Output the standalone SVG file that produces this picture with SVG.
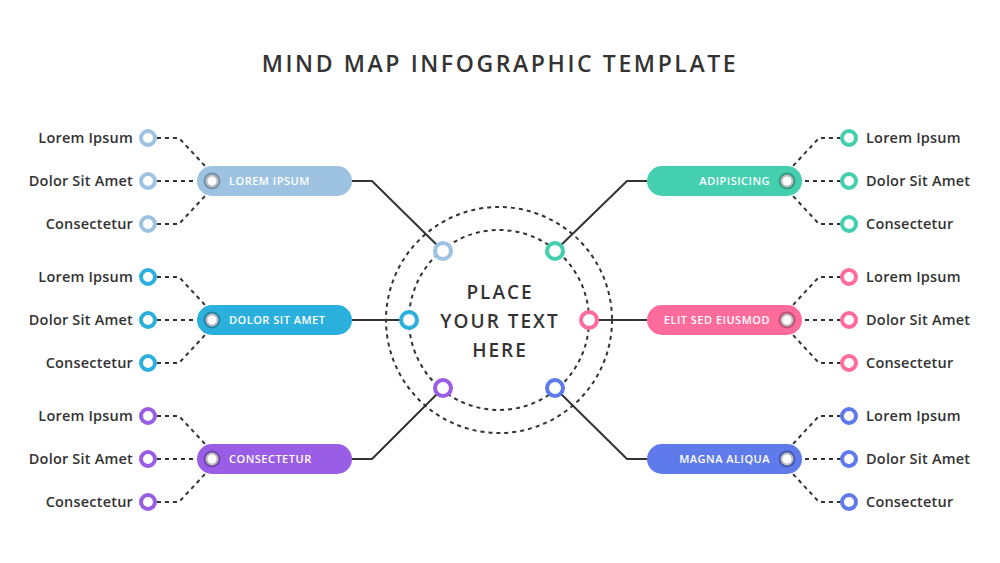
<svg xmlns="http://www.w3.org/2000/svg" width="1000" height="563" viewBox="0 0 1000 563">
<style>
.title{font-family:"Open Sans","Liberation Sans",sans-serif;font-size:23px;font-weight:600;fill:#333;letter-spacing:2.6px}
.center{font-family:"Open Sans","Liberation Sans",sans-serif;font-size:19px;font-weight:600;fill:#333;letter-spacing:2px}
.leaf{font-family:"Open Sans","Liberation Sans",sans-serif;font-size:14.5px;font-weight:600;fill:#333;letter-spacing:0.2px}
.pill{font-family:"Open Sans","Liberation Sans",sans-serif;font-size:11px;font-weight:600;fill:#fff;letter-spacing:0.5px}
.main{fill:none;stroke:#333;stroke-width:2;stroke-linejoin:round}
.dash{fill:none;stroke:#333;stroke-width:2;stroke-dasharray:4 4}
.ring{fill:#fff;stroke-width:4}
.dot{fill:#fff;stroke:#000;stroke-opacity:0.25;stroke-width:4}
</style>
<rect width="1000" height="563" fill="#fff"/>
<text class="title" x="500" y="72" text-anchor="middle">MIND MAP INFOGRAPHIC TEMPLATE</text>

<g id="connectors">
  <circle class="dash" cx="499" cy="320" r="113"/>
  <circle class="dash" cx="499" cy="320" r="90"/>
  <path class="main" d="M352 181 H372 L443 251"/>
  <path class="main" d="M352 320 H401"/>
  <path class="main" d="M352 459 H372 L443 388"/>
  <path class="main" d="M647 181 H627 L555 251"/>
  <path class="main" d="M647 320 H597"/>
  <path class="main" d="M647 459 H627 L555 388"/>
  <path class="dash" d="M157 138 H179 L205 166"/>
  <path class="dash" d="M157 181 H198"/>
  <path class="dash" d="M157 224 H179 L205 196"/>
  <path class="dash" d="M157 277 H179 L205 305"/>
  <path class="dash" d="M157 320 H198"/>
  <path class="dash" d="M157 363 H179 L205 335"/>
  <path class="dash" d="M157 416 H179 L205 444"/>
  <path class="dash" d="M157 459 H198"/>
  <path class="dash" d="M157 502 H179 L205 474"/>
  <path class="dash" d="M841 138 H819 L793 166"/>
  <path class="dash" d="M841 181 H801"/>
  <path class="dash" d="M841 224 H819 L793 196"/>
  <path class="dash" d="M841 277 H819 L793 305"/>
  <path class="dash" d="M841 320 H801"/>
  <path class="dash" d="M841 363 H819 L793 335"/>
  <path class="dash" d="M841 416 H819 L793 444"/>
  <path class="dash" d="M841 459 H801"/>
  <path class="dash" d="M841 502 H819 L793 474"/>
</g>

<g id="center">
  <text class="center" x="500" y="299" text-anchor="middle">PLACE</text>
  <text class="center" x="500" y="328" text-anchor="middle">YOUR TEXT</text>
  <text class="center" x="500" y="357" text-anchor="middle">HERE</text>
  <circle class="ring" cx="443" cy="251" r="8" stroke="#9EC3E2"/>
  <circle class="ring" cx="409" cy="320" r="8" stroke="#2BB0DD"/>
  <circle class="ring" cx="443" cy="388" r="8" stroke="#9A5DE6"/>
  <circle class="ring" cx="555" cy="251" r="8" stroke="#44CFAE"/>
  <circle class="ring" cx="589" cy="320" r="8" stroke="#FF6B9B"/>
  <circle class="ring" cx="555" cy="388" r="8" stroke="#5E7AEB"/>
</g>

<g id="branch-lorem-ipsum">
  <rect x="197" y="166" width="155" height="30" rx="15" fill="#9EC3E2"/>
  <circle class="dot" cx="212" cy="181" r="6.5"/>
  <text class="pill" x="229" y="185">LOREM IPSUM</text>
  <circle class="ring" cx="148" cy="138" r="7" stroke="#9EC3E2"/>
  <circle class="ring" cx="148" cy="181" r="7" stroke="#9EC3E2"/>
  <circle class="ring" cx="148" cy="224" r="7" stroke="#9EC3E2"/>
  <text class="leaf" x="133" y="143" text-anchor="end">Lorem Ipsum</text>
  <text class="leaf" x="133" y="186" text-anchor="end">Dolor Sit Amet</text>
  <text class="leaf" x="133" y="229" text-anchor="end">Consectetur</text>
</g>

<g id="branch-dolor-sit-amet">
  <rect x="197" y="305" width="155" height="30" rx="15" fill="#2BB0DD"/>
  <circle class="dot" cx="212" cy="320" r="6.5"/>
  <text class="pill" x="229" y="324">DOLOR SIT AMET</text>
  <circle class="ring" cx="148" cy="277" r="7" stroke="#2BB0DD"/>
  <circle class="ring" cx="148" cy="320" r="7" stroke="#2BB0DD"/>
  <circle class="ring" cx="148" cy="363" r="7" stroke="#2BB0DD"/>
  <text class="leaf" x="133" y="282" text-anchor="end">Lorem Ipsum</text>
  <text class="leaf" x="133" y="325" text-anchor="end">Dolor Sit Amet</text>
  <text class="leaf" x="133" y="368" text-anchor="end">Consectetur</text>
</g>

<g id="branch-consectetur">
  <rect x="197" y="444" width="155" height="30" rx="15" fill="#9A5DE6"/>
  <circle class="dot" cx="212" cy="459" r="6.5"/>
  <text class="pill" x="229" y="463">CONSECTETUR</text>
  <circle class="ring" cx="148" cy="416" r="7" stroke="#9A5DE6"/>
  <circle class="ring" cx="148" cy="459" r="7" stroke="#9A5DE6"/>
  <circle class="ring" cx="148" cy="502" r="7" stroke="#9A5DE6"/>
  <text class="leaf" x="133" y="421" text-anchor="end">Lorem Ipsum</text>
  <text class="leaf" x="133" y="464" text-anchor="end">Dolor Sit Amet</text>
  <text class="leaf" x="133" y="507" text-anchor="end">Consectetur</text>
</g>

<g id="branch-adipisicing">
  <rect x="647" y="166" width="155" height="30" rx="15" fill="#44CFAE"/>
  <circle class="dot" cx="787" cy="181" r="6.5"/>
  <text class="pill" x="770" y="185" text-anchor="end">ADIPISICING</text>
  <circle class="ring" cx="849" cy="138" r="7" stroke="#44CFAE"/>
  <circle class="ring" cx="849" cy="181" r="7" stroke="#44CFAE"/>
  <circle class="ring" cx="849" cy="224" r="7" stroke="#44CFAE"/>
  <text class="leaf" x="866" y="143">Lorem Ipsum</text>
  <text class="leaf" x="866" y="186">Dolor Sit Amet</text>
  <text class="leaf" x="866" y="229">Consectetur</text>
</g>

<g id="branch-elit-sed-eiusmod">
  <rect x="647" y="305" width="155" height="30" rx="15" fill="#FF6B9B"/>
  <circle class="dot" cx="787" cy="320" r="6.5"/>
  <text class="pill" x="770" y="324" text-anchor="end">ELIT SED EIUSMOD</text>
  <circle class="ring" cx="849" cy="277" r="7" stroke="#FF6B9B"/>
  <circle class="ring" cx="849" cy="320" r="7" stroke="#FF6B9B"/>
  <circle class="ring" cx="849" cy="363" r="7" stroke="#FF6B9B"/>
  <text class="leaf" x="866" y="282">Lorem Ipsum</text>
  <text class="leaf" x="866" y="325">Dolor Sit Amet</text>
  <text class="leaf" x="866" y="368">Consectetur</text>
</g>

<g id="branch-magna-aliqua">
  <rect x="647" y="444" width="155" height="30" rx="15" fill="#5E7AEB"/>
  <circle class="dot" cx="787" cy="459" r="6.5"/>
  <text class="pill" x="770" y="463" text-anchor="end">MAGNA ALIQUA</text>
  <circle class="ring" cx="849" cy="416" r="7" stroke="#5E7AEB"/>
  <circle class="ring" cx="849" cy="459" r="7" stroke="#5E7AEB"/>
  <circle class="ring" cx="849" cy="502" r="7" stroke="#5E7AEB"/>
  <text class="leaf" x="866" y="421">Lorem Ipsum</text>
  <text class="leaf" x="866" y="464">Dolor Sit Amet</text>
  <text class="leaf" x="866" y="507">Consectetur</text>
</g>
</svg>
